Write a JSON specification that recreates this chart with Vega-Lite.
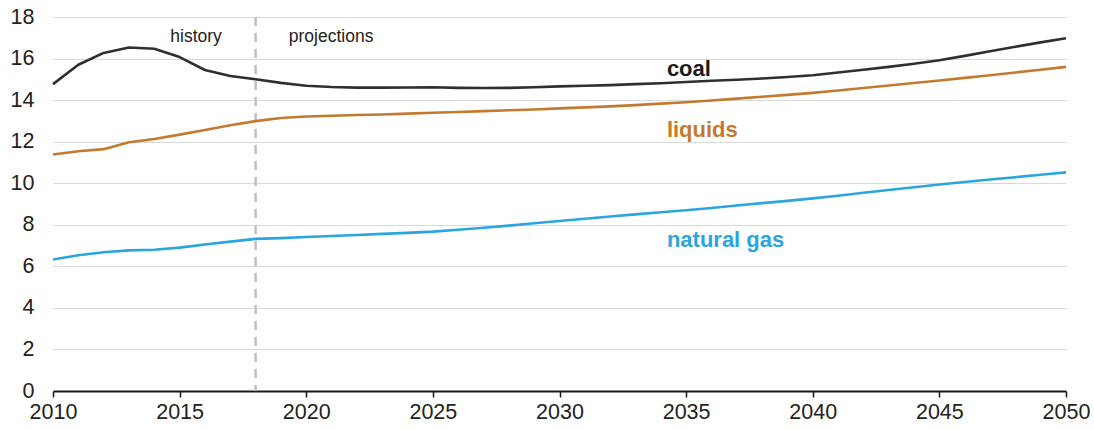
{
  "$schema": "https://vega.github.io/schema/vega-lite/v6.json",
  "width": 1013,
  "height": 374,
  "autosize": {"type": "none"},
  "padding": {"left": 53, "top": 17, "right": 28, "bottom": 39},
  "config": {
    "view": {"stroke": null},
    "font": "Liberation Sans"
  },
  "datasets": {
    "series": [
      {"series": "coal", "year": 2010, "value": 14.77},
      {"series": "coal", "year": 2011, "value": 15.7},
      {"series": "coal", "year": 2012, "value": 16.27},
      {"series": "coal", "year": 2013, "value": 16.53},
      {"series": "coal", "year": 2014, "value": 16.47},
      {"series": "coal", "year": 2015, "value": 16.07},
      {"series": "coal", "year": 2016, "value": 15.45},
      {"series": "coal", "year": 2017, "value": 15.16},
      {"series": "coal", "year": 2018, "value": 15.0},
      {"series": "coal", "year": 2019, "value": 14.83},
      {"series": "coal", "year": 2020, "value": 14.69},
      {"series": "coal", "year": 2021, "value": 14.63},
      {"series": "coal", "year": 2022, "value": 14.6},
      {"series": "coal", "year": 2023, "value": 14.6},
      {"series": "coal", "year": 2024, "value": 14.61},
      {"series": "coal", "year": 2025, "value": 14.62},
      {"series": "coal", "year": 2026, "value": 14.59},
      {"series": "coal", "year": 2027, "value": 14.58},
      {"series": "coal", "year": 2028, "value": 14.59},
      {"series": "coal", "year": 2029, "value": 14.62},
      {"series": "coal", "year": 2030, "value": 14.66},
      {"series": "coal", "year": 2031, "value": 14.69},
      {"series": "coal", "year": 2032, "value": 14.72},
      {"series": "coal", "year": 2033, "value": 14.77},
      {"series": "coal", "year": 2034, "value": 14.81},
      {"series": "coal", "year": 2035, "value": 14.87},
      {"series": "coal", "year": 2036, "value": 14.93},
      {"series": "coal", "year": 2037, "value": 14.98},
      {"series": "coal", "year": 2038, "value": 15.04},
      {"series": "coal", "year": 2039, "value": 15.11},
      {"series": "coal", "year": 2040, "value": 15.2},
      {"series": "coal", "year": 2041, "value": 15.33},
      {"series": "coal", "year": 2042, "value": 15.46},
      {"series": "coal", "year": 2043, "value": 15.6},
      {"series": "coal", "year": 2044, "value": 15.75},
      {"series": "coal", "year": 2045, "value": 15.92},
      {"series": "coal", "year": 2046, "value": 16.13},
      {"series": "coal", "year": 2047, "value": 16.35},
      {"series": "coal", "year": 2048, "value": 16.57},
      {"series": "coal", "year": 2049, "value": 16.78},
      {"series": "coal", "year": 2050, "value": 16.98},
      {"series": "liquids", "year": 2010, "value": 11.38},
      {"series": "liquids", "year": 2011, "value": 11.54},
      {"series": "liquids", "year": 2012, "value": 11.64},
      {"series": "liquids", "year": 2013, "value": 11.97},
      {"series": "liquids", "year": 2014, "value": 12.13},
      {"series": "liquids", "year": 2015, "value": 12.34},
      {"series": "liquids", "year": 2016, "value": 12.56},
      {"series": "liquids", "year": 2017, "value": 12.79},
      {"series": "liquids", "year": 2018, "value": 12.99},
      {"series": "liquids", "year": 2019, "value": 13.14},
      {"series": "liquids", "year": 2020, "value": 13.21},
      {"series": "liquids", "year": 2021, "value": 13.25},
      {"series": "liquids", "year": 2022, "value": 13.28},
      {"series": "liquids", "year": 2023, "value": 13.31},
      {"series": "liquids", "year": 2024, "value": 13.35},
      {"series": "liquids", "year": 2025, "value": 13.39},
      {"series": "liquids", "year": 2026, "value": 13.43},
      {"series": "liquids", "year": 2027, "value": 13.47},
      {"series": "liquids", "year": 2028, "value": 13.51},
      {"series": "liquids", "year": 2029, "value": 13.55},
      {"series": "liquids", "year": 2030, "value": 13.6},
      {"series": "liquids", "year": 2031, "value": 13.65},
      {"series": "liquids", "year": 2032, "value": 13.7},
      {"series": "liquids", "year": 2033, "value": 13.76},
      {"series": "liquids", "year": 2034, "value": 13.83},
      {"series": "liquids", "year": 2035, "value": 13.9},
      {"series": "liquids", "year": 2036, "value": 13.98},
      {"series": "liquids", "year": 2037, "value": 14.07},
      {"series": "liquids", "year": 2038, "value": 14.16},
      {"series": "liquids", "year": 2039, "value": 14.25},
      {"series": "liquids", "year": 2040, "value": 14.35},
      {"series": "liquids", "year": 2041, "value": 14.46},
      {"series": "liquids", "year": 2042, "value": 14.58},
      {"series": "liquids", "year": 2043, "value": 14.7},
      {"series": "liquids", "year": 2044, "value": 14.82},
      {"series": "liquids", "year": 2045, "value": 14.94},
      {"series": "liquids", "year": 2046, "value": 15.07},
      {"series": "liquids", "year": 2047, "value": 15.2},
      {"series": "liquids", "year": 2048, "value": 15.33},
      {"series": "liquids", "year": 2049, "value": 15.46},
      {"series": "liquids", "year": 2050, "value": 15.6},
      {"series": "natural gas", "year": 2010, "value": 6.33},
      {"series": "natural gas", "year": 2011, "value": 6.53},
      {"series": "natural gas", "year": 2012, "value": 6.68},
      {"series": "natural gas", "year": 2013, "value": 6.77},
      {"series": "natural gas", "year": 2014, "value": 6.8},
      {"series": "natural gas", "year": 2015, "value": 6.9},
      {"series": "natural gas", "year": 2016, "value": 7.05},
      {"series": "natural gas", "year": 2017, "value": 7.19},
      {"series": "natural gas", "year": 2018, "value": 7.32},
      {"series": "natural gas", "year": 2019, "value": 7.36},
      {"series": "natural gas", "year": 2020, "value": 7.41},
      {"series": "natural gas", "year": 2021, "value": 7.46},
      {"series": "natural gas", "year": 2022, "value": 7.51},
      {"series": "natural gas", "year": 2023, "value": 7.56},
      {"series": "natural gas", "year": 2024, "value": 7.61},
      {"series": "natural gas", "year": 2025, "value": 7.67},
      {"series": "natural gas", "year": 2026, "value": 7.76},
      {"series": "natural gas", "year": 2027, "value": 7.86},
      {"series": "natural gas", "year": 2028, "value": 7.96},
      {"series": "natural gas", "year": 2029, "value": 8.07},
      {"series": "natural gas", "year": 2030, "value": 8.18},
      {"series": "natural gas", "year": 2031, "value": 8.29},
      {"series": "natural gas", "year": 2032, "value": 8.4},
      {"series": "natural gas", "year": 2033, "value": 8.5},
      {"series": "natural gas", "year": 2034, "value": 8.6},
      {"series": "natural gas", "year": 2035, "value": 8.7},
      {"series": "natural gas", "year": 2036, "value": 8.81},
      {"series": "natural gas", "year": 2037, "value": 8.93},
      {"series": "natural gas", "year": 2038, "value": 9.04},
      {"series": "natural gas", "year": 2039, "value": 9.15},
      {"series": "natural gas", "year": 2040, "value": 9.27},
      {"series": "natural gas", "year": 2041, "value": 9.4},
      {"series": "natural gas", "year": 2042, "value": 9.54},
      {"series": "natural gas", "year": 2043, "value": 9.67},
      {"series": "natural gas", "year": 2044, "value": 9.81},
      {"series": "natural gas", "year": 2045, "value": 9.94},
      {"series": "natural gas", "year": 2046, "value": 10.06},
      {"series": "natural gas", "year": 2047, "value": 10.18},
      {"series": "natural gas", "year": 2048, "value": 10.29},
      {"series": "natural gas", "year": 2049, "value": 10.41},
      {"series": "natural gas", "year": 2050, "value": 10.52}
    ],
    "labels": [
      {"label": "coal", "year": 2034.24, "value": 15.16},
      {"label": "liquids", "year": 2034.24, "value": 12.22},
      {"label": "natural gas", "year": 2034.24, "value": 6.93}
    ],
    "notes": [
      {"label": "history", "year": 2015.65, "value": 16.81},
      {"label": "projections", "year": 2020.98, "value": 16.81}
    ],
    "divider": [{"year": 2018}]
  },
  "layer": [
    {
      "data": {"name": "divider"},
      "mark": {"type": "rule", "color": "#c0c0c0", "strokeWidth": 2.5, "strokeDash": [9, 7]},
      "encoding": {
        "x": {"field": "year", "type": "quantitative", "scale": {"domain": [2010, 2050]}}
      }
    },
    {
      "data": {"name": "series"},
      "mark": {"type": "line", "strokeWidth": 2.6, "interpolate": "linear", "strokeJoin": "round"},
      "encoding": {
        "x": {
          "field": "year", "type": "quantitative",
          "scale": {"domain": [2010, 2050], "nice": false, "zero": false},
          "axis": {
            "title": null, "values": [2010, 2015, 2020, 2025, 2030, 2035, 2040, 2045, 2050],
            "format": "d", "grid": false, "domainColor": "#1a1a1a", "domainWidth": 2,
            "tickColor": "#1a1a1a", "tickWidth": 1.5, "tickSize": 6,
            "labelFontSize": 21.5, "labelColor": "#222222", "labelPadding": 4,
            "labelFlush": false
          }
        },
        "y": {
          "field": "value", "type": "quantitative",
          "scale": {"domain": [0, 18], "nice": false},
          "axis": {
            "title": null, "values": [0, 2, 4, 6, 8, 10, 12, 14, 16, 18],
            "domain": false, "ticks": false, "gridColor": "#d9d9d9", "gridWidth": 1.2,
            "labelFontSize": 21.5, "labelColor": "#222222", "labelPadding": 19
          }
        },
        "color": {
          "field": "series", "type": "nominal",
          "scale": {"domain": ["coal", "liquids", "natural gas"], "range": ["#2f2f2f", "#c47a2e", "#2ba5e0"]},
          "legend": null
        }
      }
    },
    {
      "data": {"name": "labels"},
      "mark": {"type": "text", "align": "left", "baseline": "alphabetic", "fontSize": 22, "fontWeight": "bold"},
      "encoding": {
        "x": {"field": "year", "type": "quantitative"},
        "y": {"field": "value", "type": "quantitative"},
        "text": {"field": "label"},
        "color": {
          "field": "label", "type": "nominal",
          "scale": {"domain": ["coal", "liquids", "natural gas"], "range": ["#1a1a1a", "#c47a2e", "#2ba5e0"]},
          "legend": null
        }
      }
    },
    {
      "data": {"name": "notes"},
      "mark": {"type": "text", "align": "center", "baseline": "alphabetic", "fontSize": 17.5, "color": "#222222"},
      "encoding": {
        "x": {"field": "year", "type": "quantitative"},
        "y": {"field": "value", "type": "quantitative"},
        "text": {"field": "label"}
      }
    }
  ],
  "resolve": {"scale": {"color": "independent"}}
}
